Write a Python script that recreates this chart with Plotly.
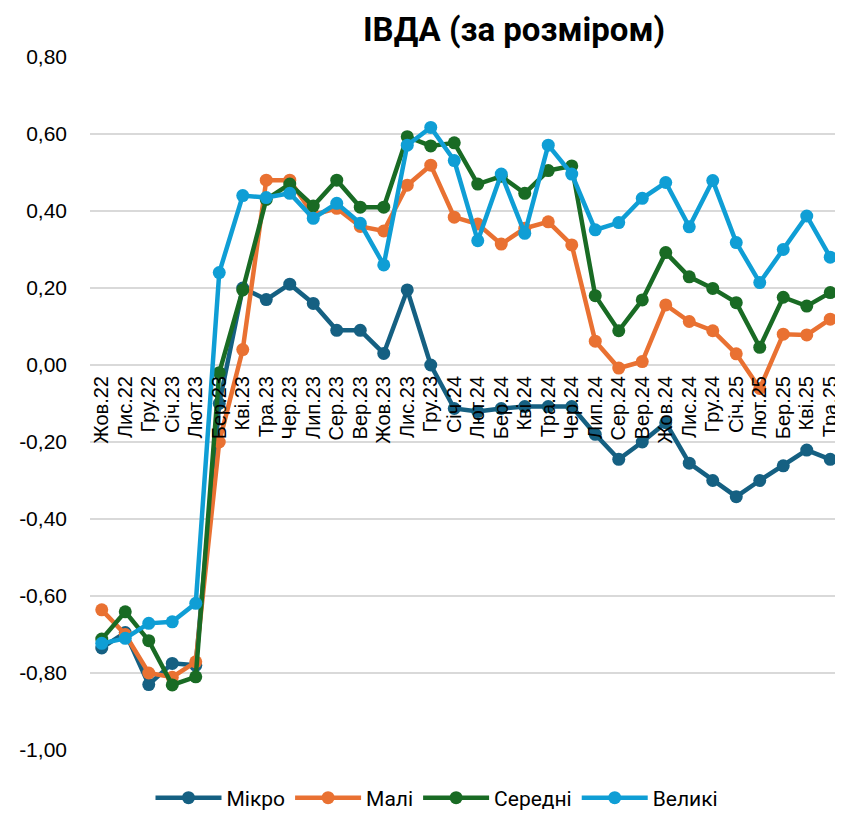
import plotly.graph_objects as go

categories = ["Жов.22", "Лис.22", "Гру.22", "Січ.23", "Лют.23", "Бер.23", "Кві.23", "Тра.23",
              "Чер.23", "Лип.23", "Сер.23", "Вер.23", "Жов.23", "Лис.23", "Гру.23", "Січ.24",
              "Лют.24", "Бер.24", "Кві.24", "Тра.24", "Чер.24", "Лип.24", "Сер.24", "Вер.24",
              "Жов.24", "Лис.24", "Гру.24", "Січ.25", "Лют.25", "Бер.25", "Кві.25", "Тра.25"]

mikro = [-0.735, -0.695, -0.83, -0.775, -0.78, -0.10, 0.20, 0.17,
         0.21, 0.16, 0.09, 0.09, 0.03, 0.195, 0.00, -0.113,
         -0.121, -0.113, -0.108, -0.108, -0.108, -0.18, -0.245, -0.20,
         -0.15, -0.255, -0.30, -0.342, -0.30, -0.262, -0.221, -0.245]

mali = [-0.636, -0.70, -0.80, -0.811, -0.771, -0.20, 0.04, 0.48,
        0.48, 0.39, 0.407, 0.36, 0.348, 0.467, 0.519, 0.384,
        0.366, 0.314, 0.355, 0.372, 0.312, 0.062, -0.008, 0.009,
        0.156, 0.113, 0.089, 0.029, -0.061, 0.08, 0.078, 0.119]

seredni = [-0.712, -0.641, -0.716, -0.831, -0.81, -0.02, 0.195, 0.43,
           0.47, 0.413, 0.48, 0.41, 0.41, 0.593, 0.569, 0.577,
           0.47, 0.49, 0.446, 0.505, 0.517, 0.18, 0.089, 0.169,
           0.292, 0.229, 0.199, 0.162, 0.046, 0.176, 0.153, 0.188]

velyki = [-0.723, -0.71, -0.671, -0.667, -0.619, 0.24, 0.44, 0.435,
          0.446, 0.381, 0.42, 0.368, 0.26, 0.571, 0.617, 0.531,
          0.323, 0.496, 0.342, 0.571, 0.496, 0.351, 0.37, 0.433,
          0.474, 0.359, 0.479, 0.318, 0.214, 0.30, 0.387, 0.28]

series = [("Мікро", mikro, "#156082"),
          ("Малі", mali, "#E97132"),
          ("Середні", seredni, "#196B24"),
          ("Великі", velyki, "#0F9ED5")]

y_ticks = [0.8, 0.6, 0.4, 0.2, 0.0, -0.2, -0.4, -0.6, -0.8, -1.0]
y_tick_text = ["0,80", "0,60", "0,40", "0,20", "0,00", "-0,20", "-0,40", "-0,60", "-0,80", "-1,00"]

fig = go.Figure()
for name, vals, col in series:
    fig.add_trace(go.Scatter(
        x=categories, y=vals, name=name, mode="lines+markers",
        line=dict(color=col, width=4.5),
        marker=dict(color=col, size=13),
    ))

# the page body has an 8px default margin, so the figure is offset by 8px
W, H = 835, 820
font_family = "Liberation Sans, Arial, sans-serif"
fig.update_layout(
    width=W, height=H,
    margin=dict(l=82, r=1, t=49, b=H - 742),
    paper_bgcolor="white", plot_bgcolor="white",
    title=dict(text="<b>ІВДА (за розміром)</b>", x=506 / W, xanchor="center",
               y=1 - 21 / H, yanchor="middle", pad=dict(t=0, b=0),
               font=dict(family="Roboto, sans-serif", size=33, color="black")),
    font=dict(family=font_family, size=21, color="black"),
    showlegend=True,
    legend=dict(orientation="h", x=(437 - 90) / 752, xanchor="center", y=-48 / 693, yanchor="middle",
                font=dict(size=21, family="Roboto, sans-serif"), itemwidth=66, tracegroupgap=0,
                borderwidth=0),
    xaxis=dict(type="category", range=[-0.5, 31.5], tickangle=-90, automargin=False,
               tickmode="linear", tick0=0, dtick=1,
               anchor="free", position=1 / 1.8, showgrid=False, showline=False,
               ticks="", ticklabelstandoff=6, tickfont=dict(size=20, family=font_family)),
    yaxis=dict(range=[-1.0, 0.8], tickvals=y_ticks, ticktext=y_tick_text, automargin=False,
               showgrid=True, gridcolor="#d9d9d9", gridwidth=2, zeroline=False,
               showline=False, ticks="", ticklabelstandoff=22,
               tickfont=dict(size=21, family=font_family)),
)

fig.write_html("out.html")
